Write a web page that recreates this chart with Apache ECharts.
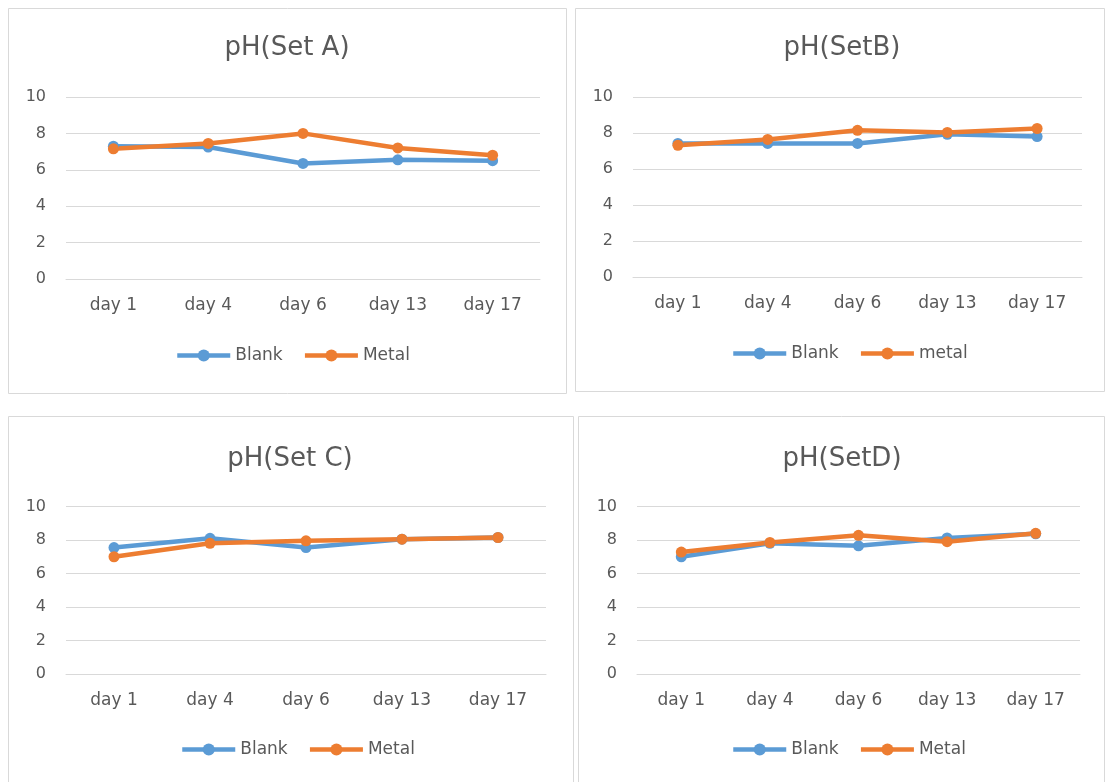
<!DOCTYPE html>
<html>
<head>
<meta charset="utf-8">
<script src="https://cdn.jsdelivr.net/npm/echarts@6/dist/echarts.min.js"></script>
<style>
  html, body { margin: 0; padding: 0; background: #ffffff; }
  #chart { width: 1107px; height: 782px; }
</style>
</head>
<body>
<div id="chart"></div>
<script>
// Sampling days shared by every panel
const days = ['day 1', 'day 4', 'day 6', 'day 13', 'day 17'];

// pH readings per set
const setABlank = [7.3, 7.25, 6.35, 6.55, 6.5];
const setAMetal = [7.15, 7.45, 8.0, 7.2, 6.8];
const setBBlank = [7.42, 7.42, 7.42, 7.93, 7.8];
const setBMetal = [7.32, 7.64, 8.15, 8.03, 8.25];
const setCBlank = [7.55, 8.1, 7.55, 8.05, 8.15];
const setCMetal = [7.0, 7.8, 7.95, 8.05, 8.15];
const setDBlank = [7.0, 7.8, 7.65, 8.12, 8.37];
const setDMetal = [7.28, 7.85, 8.28, 7.9, 8.4];

const panelTitles = ['pH(Set A)', 'pH(SetB)', 'pH(Set C)', 'pH(SetD)'];
const blankNames = ['Blank', 'Blank', 'Blank', 'Blank'];
const metalNames = ['Metal', 'metal', 'Metal', 'Metal'];
const blankData = [setABlank, setBBlank, setCBlank, setDBlank];
const metalData = [setAMetal, setBMetal, setCMetal, setDMetal];

// y axis range (pH)
const yMin = 0, yMax = 10, yStep = 2;

// Layout of the four panels
const panels = [
  { box: [8, 8, 558, 385],   grid: [66, 97, 474, 182],  titleX: 287, titleY: 35,  legendX: 175, legendY: 347 },
  { box: [575, 8, 529, 383], grid: [633, 97, 449, 180], titleX: 842, titleY: 35,  legendX: 731, legendY: 345 },
  { box: [8, 416, 565, 380], grid: [66, 506.5, 480, 167.5], titleX: 290, titleY: 446, legendX: 180, legendY: 741 },
  { box: [578, 416, 526, 380], grid: [637, 506.5, 443, 167.5], titleX: 842, titleY: 446, legendX: 731, legendY: 741 }
];

const BLUE = '#5B9BD5';
const ORANGE = '#ED7D31';
const TEXT = '#595959';
const LINE = '#d9d9d9';
const FONT = 'DejaVu Sans';

const option = {
  backgroundColor: '#ffffff',
  animation: false,
  textStyle: { fontFamily: FONT },
  graphic: panels.map(p => ({
    type: 'rect',
    shape: { x: p.box[0] + 0.5, y: p.box[1] + 0.5, width: p.box[2], height: p.box[3] },
    style: { fill: 'none', stroke: LINE, lineWidth: 1 },
    silent: true
  })),
  title: panels.map((p, i) => ({
    text: panelTitles[i],
    left: p.titleX,
    top: p.titleY,
    textAlign: 'center',
    padding: 0,
    textStyle: { fontFamily: FONT, fontSize: 26, fontWeight: 'normal', color: TEXT }
  })),
  legend: panels.map((p, i) => ({
    data: [blankNames[i], metalNames[i]],
    left: p.legendX,
    top: p.legendY,
    padding: 0,
    itemWidth: 53,
    itemHeight: 15,
    itemGap: 20,
    lineStyle: { width: 4.5 },
    textStyle: { fontFamily: FONT, fontSize: 17, color: TEXT }
  })),
  grid: panels.map(p => ({
    left: p.grid[0], top: p.grid[1], width: p.grid[2], height: p.grid[3],
    containLabel: false
  })),
  xAxis: panels.map((p, i) => ({
    type: 'category',
    gridIndex: i,
    data: days,
    boundaryGap: true,
    axisLine: { show: true, lineStyle: { color: LINE, width: 1 } },
    axisTick: { show: false },
    axisLabel: { margin: 18, fontFamily: FONT, fontSize: 17, color: TEXT }
  })),
  yAxis: panels.map((p, i) => ({
    type: 'value',
    gridIndex: i,
    min: yMin, max: yMax, interval: yStep,
    axisLine: { show: false },
    axisTick: { show: false },
    splitLine: { show: true, lineStyle: { color: LINE, width: 1 } },
    axisLabel: { margin: 20, fontFamily: FONT, fontSize: 16, color: TEXT }
  })),
  series: []
};

panels.forEach((p, i) => {
  option.series.push({
    name: blankNames[i],
    type: 'line',
    xAxisIndex: i, yAxisIndex: i,
    data: blankData[i],
    symbol: 'circle', symbolSize: 11,
    lineStyle: { color: BLUE, width: 4.5 },
    itemStyle: { color: BLUE },
    emphasis: { disabled: true }
  });
  option.series.push({
    name: metalNames[i],
    type: 'line',
    xAxisIndex: i, yAxisIndex: i,
    data: metalData[i],
    symbol: 'circle', symbolSize: 11,
    lineStyle: { color: ORANGE, width: 4.5 },
    itemStyle: { color: ORANGE },
    emphasis: { disabled: true }
  });
});

const chart = echarts.init(document.getElementById('chart'), null, { renderer: 'canvas' });
chart.setOption(option);
</script>
</body>
</html>
